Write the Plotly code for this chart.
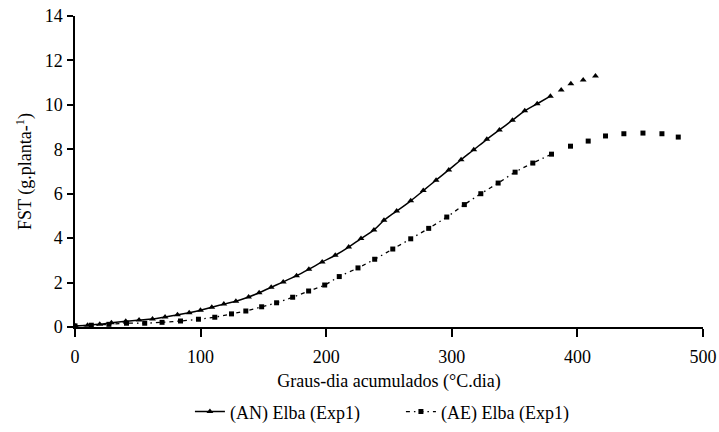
import plotly.graph_objects as go

# (AN) Elba (Exp1) - triangles
an_x = [0, 10, 19.7, 29, 40.4, 51, 61.7, 71.7, 81.6, 90.9, 99.9, 108.9, 118.5, 128.1, 138.2,
        146.6, 156.2, 165.8, 176.4, 186.2, 196.8, 207.2, 217.9, 227.7, 238, 246, 256.1,
        267.3, 277.3, 287.5, 297.6, 307.4, 317.5, 327.9, 337.9, 348.3, 358.1, 368,
        378.5, 387.1, 394.8, 404.6, 414.4]
an_y = [0.05, 0.08, 0.12, 0.19, 0.26, 0.31, 0.36, 0.45, 0.55, 0.64, 0.75, 0.89, 1.03, 1.16, 1.35,
        1.54, 1.79, 2.03, 2.31, 2.6, 2.93, 3.23, 3.6, 3.98, 4.37, 4.8, 5.22,
        5.68, 6.14, 6.61, 7.07, 7.53, 7.98, 8.45, 8.87, 9.31, 9.73, 10.05,
        10.39, 10.67, 10.95, 11.12, 11.3]
an_line_end = 378.5

# (AE) Elba (Exp1) - squares
ae_x = [0, 13, 27, 41, 55.5, 69.3, 84, 98.3, 111.3, 124.6, 136, 148.6, 160.5, 173.3, 186,
        198.8, 210.4, 225.3, 238.6, 253, 267.3, 281.6, 296, 310, 323.1, 336.9, 350.4,
        364.5, 379.4, 394.5, 408.6, 422.4, 437, 452.2, 467.3, 480.3]
ae_y = [0.05, 0.08, 0.12, 0.17, 0.17, 0.21, 0.27, 0.35, 0.44, 0.59, 0.72, 0.91, 1.09, 1.34, 1.62,
        1.89, 2.27, 2.66, 3.05, 3.51, 3.97, 4.44, 4.95, 5.51, 6.0, 6.48, 6.97,
        7.38, 7.78, 8.14, 8.37, 8.6, 8.7, 8.73, 8.7, 8.55]
ae_line_end = 379.4

x_ticks = [0, 100, 200, 300, 400, 500]
y_ticks = [0, 2, 4, 6, 8, 10, 12, 14]

FONT = "Liberation Serif, Times New Roman, serif"
FS = 18

def split(xs, ys, end):
    a = [(x, y) for x, y in zip(xs, ys) if x <= end]
    b = [(x, y) for x, y in zip(xs, ys) if x > end]
    return [p[0] for p in a], [p[1] for p in a], [p[0] for p in b], [p[1] for p in b]

anx1, any1, anx2, any2 = split(an_x, an_y, an_line_end)
aex1, aey1, aex2, aey2 = split(ae_x, ae_y, ae_line_end)

fig = go.Figure()
fig.add_trace(go.Scatter(x=anx1, y=any1, mode="lines+markers", name="(AN) Elba (Exp1)",
                         line=dict(color="black", width=1.5, shape="spline"),
                         marker=dict(symbol="triangle-up", size=6, color="black")))
fig.add_trace(go.Scatter(x=anx2, y=any2, mode="markers", showlegend=False,
                         marker=dict(symbol="triangle-up", size=6, color="black")))
fig.add_trace(go.Scatter(x=aex1, y=aey1, mode="lines+markers", name="(AE) Elba (Exp1)",
                         line=dict(color="black", width=1.3, dash="4px,4px,1.5px,4px", shape="spline"),
                         marker=dict(symbol="square", size=5, color="black")))
fig.add_trace(go.Scatter(x=aex2, y=aey2, mode="markers", showlegend=False,
                         marker=dict(symbol="square", size=5, color="black")))

fig.update_layout(
    width=719, height=432,
    margin=dict(l=75, r=16, t=16, b=105, autoexpand=False),
    plot_bgcolor="white", paper_bgcolor="white",
    font=dict(family=FONT, size=FS, color="black"),
    showlegend=True,
    legend=dict(orientation="h", x=0.183, xanchor="left", y=-0.273, yanchor="middle",
                font=dict(family=FONT, size=FS), tracegroupgap=0,
                itemwidth=30, entrywidth=166, entrywidthmode="pixels"),
    xaxis=dict(range=[0, 500], tickvals=x_ticks, showgrid=False, zeroline=False,
               showline=True, linecolor="black", linewidth=1.5, automargin=False,
               ticks="outside", ticklen=8, tickwidth=1.5, tickcolor="black",
               ticklabelstandoff=5, tickfont=dict(family=FONT, size=FS),
               title=dict(text="Graus-dia acumulados (°C.dia)", standoff=8,
                          font=dict(family=FONT, size=FS))),
    yaxis=dict(range=[0, 14], tickvals=y_ticks, showgrid=False, zeroline=False,
               showline=True, linecolor="black", linewidth=1.5, automargin=False,
               ticks="outside", ticklen=6, tickwidth=1.5, tickcolor="black",
               ticklabelstandoff=1, tickfont=dict(family=FONT, size=FS),
               title=dict(text="FST (g.planta-<sup>1</sup>)", standoff=8,
                          font=dict(family=FONT, size=FS))),
)

fig.write_html("out.html", config={"displayModeBar": False},
               post_script="document.body.style.margin='0';")
